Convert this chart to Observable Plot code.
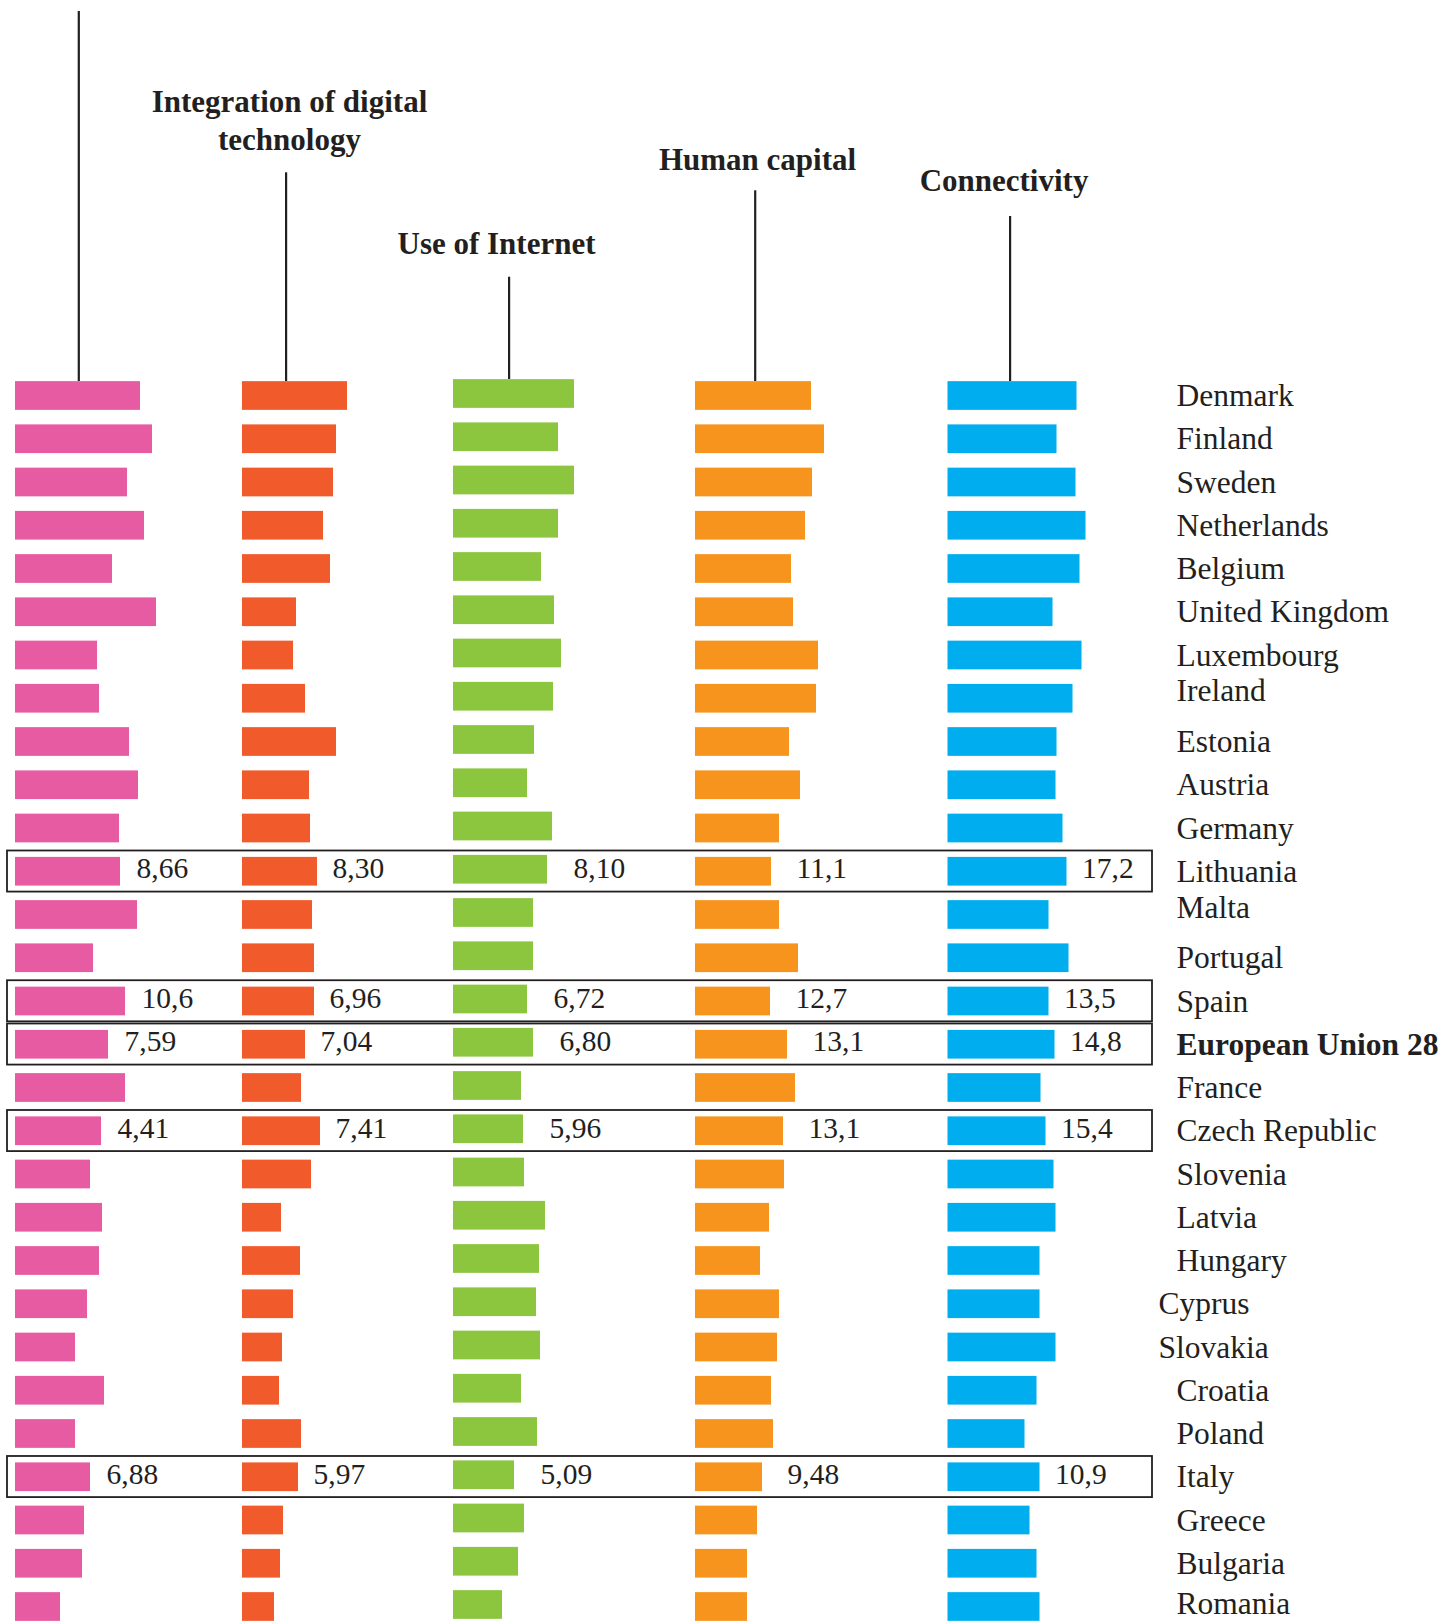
<!DOCTYPE html>
<html>
<head>
<meta charset="utf-8">
<script src="https://cdn.jsdelivr.net/npm/d3@7"></script>
<script src="https://cdn.jsdelivr.net/npm/@observablehq/plot@0.6"></script>
<style>
  html, body { margin: 0; padding: 0; background: #ffffff; }
  #chart { width: 1454px; height: 1622px; }
</style>
</head>
<body>
<div id="chart"></div>
<script>
// ---------------- DATA ----------------
const countries = [
  "Denmark", "Finland", "Sweden", "Netherlands", "Belgium", "United Kingdom",
  "Luxembourg", "Ireland", "Estonia", "Austria", "Germany", "Lithuania",
  "Malta", "Portugal", "Spain", "European Union 28", "France", "Czech Republic",
  "Slovenia", "Latvia", "Hungary", "Cyprus", "Slovakia", "Croatia", "Poland",
  "Italy", "Greece", "Bulgaria", "Romania"
];

// bar lengths as drawn in the picture (same unit for every column)
const digitalPublicServices = [
  125, 137, 112, 129, 97, 141, 82, 84, 114, 123, 104, 105, 122, 78, 110,
  93, 110, 86, 75, 87, 84, 72, 60, 89, 60, 75, 69, 67, 45
];
const integrationOfDigitalTechnology = [
  105, 94, 91, 81, 88, 54, 51, 63, 94, 67, 68, 75, 70, 72, 72,
  63, 59, 78, 69, 39, 58, 51, 40, 37, 59, 56, 41, 38, 32
];
const useOfInternet = [
  121, 105, 121, 105, 88, 101, 108, 100, 81, 74, 99, 94, 80, 80, 74,
  80, 68, 70, 71, 92, 86, 83, 87, 68, 84, 61, 71, 65, 49
];
const humanCapital = [
  116, 129, 117, 110, 96, 98, 123, 121, 94, 105, 84, 76, 84, 103, 75,
  92, 100, 88, 89, 74, 65, 84, 82, 76, 78, 67, 62, 52, 52
];
const connectivity = [
  129, 109, 128, 138, 132, 105, 134, 125, 109, 108, 115, 119, 101, 121, 101,
  107, 93, 98, 106, 108, 92, 92, 108, 89, 77, 92, 82, 89, 92
];

const dimensionTitles = [
  [],
  ["Integration of digital", "technology"],
  ["Use of Internet"],
  ["Human capital"],
  ["Connectivity"]
];

// printed scores of the framed rows
const highlightedCountries = ["Lithuania", "Spain", "European Union 28", "Czech Republic", "Italy"];
const lithuaniaScores = ["8,66", "8,30", "8,10", "11,1", "17,2"];
const spainScores     = ["10,6", "6,96", "6,72", "12,7", "13,5"];
const euScores        = ["7,59", "7,04", "6,80", "13,1", "14,8"];
const czechScores     = ["4,41", "7,41", "5,96", "13,1", "15,4"];
const italyScores     = ["6,88", "5,97", "5,09", "9,48", "10,9"];

// ---------------- LAYOUT / STYLE ----------------
const W = 1454, H = 1622;
const ROW0 = 395.5, ROWSTEP = 43.25;            // pixel centre of first row, row step
const rowOf = px => (px - ROW0) / ROWSTEP;        // pixel -> row units (y scale unit)
const series = [digitalPublicServices, integrationOfDigitalTechnology, useOfInternet, humanCapital, connectivity];
const colors = ["#e65ba1", "#f15a2b", "#8cc63f", "#f7941d", "#00aeef"];
const colStart = [15, 242, 453, 695, 947.5];
const colDy = [0, 0, -2, 0, 0];
const labelDx = [16, 15, 26, 25, 15];
const leaderX = [78.3, 285.6, 508.6, 754.7, 1009.6];
const leaderTop = [11, 172.3, 276.7, 190.3, 216];
const titleX = [0, 289, 496, 757, 1003.5];
const titleBaselines = [[], [111, 149], [253.3], [169.3], [190]];
const ink = "#231f20";
const serif = "Liberation Serif, Times New Roman, serif";
const TITLE_FS = 31, NAME_FS = 31.5, NUM_FS = 29.5;
const HALF_BAR = 0.332;

const rows = countries.map((c, i) => ({country: c, row: i}));
const scoreTable = [lithuaniaScores, spainScores, euScores, czechScores, italyScores];
const outdented = new Set(["Cyprus", "Slovakia"]);
const raised = new Set(["Ireland", "Malta"]);
const lastRow = countries.length - 1;

const marks = [];

// framed rows
marks.push(Plot.rect(highlightedCountries, {
  x1: 7, x2: 1152,
  y1: d => countries.indexOf(d) - 0.48,
  y2: d => countries.indexOf(d) + 0.47,
  fill: "none", stroke: ink, strokeWidth: 1.8
}));

// leader lines
const leaders = leaderX.map((x, k) => ({x, top: leaderTop[k], k}));
marks.push(Plot.ruleX(leaders, {
  x: "x",
  y1: d => rowOf(d.top),
  y2: d => rowOf(381 + colDy[d.k]),
  stroke: ink, strokeWidth: 2.2
}));

// titles
const titleRows = [];
dimensionTitles.forEach((lines, k) => lines.forEach((t, j) =>
  titleRows.push({text: t, x: titleX[k], base: titleBaselines[k][j]})));
marks.push(Plot.text(titleRows, {
  x: "x", y: d => rowOf(d.base - 0.32 * TITLE_FS), text: "text",
  textAnchor: "middle", fontFamily: serif, fontWeight: "bold",
  fontSize: TITLE_FS, fill: ink
}));

// bars, one mark per dimension
series.forEach((vals, k) => {
  marks.push(Plot.rect(rows, {
    x1: () => colStart[k],
    x2: d => colStart[k] + vals[d.row],
    y1: d => d.row - HALF_BAR,
    y2: d => d.row + HALF_BAR,
    dy: colDy[k],
    fill: colors[k]
  }));
});

// printed scores
series.forEach((vals, k) => {
  const data = highlightedCountries.map((c, h) => ({row: countries.indexOf(c), text: scoreTable[h][k]}));
  marks.push(Plot.text(data, {
    x: d => colStart[k] + vals[d.row],
    y: "row", text: "text",
    dx: labelDx[k], dy: -3,
    textAnchor: "start", fontFamily: serif, fontSize: NUM_FS, fill: ink
  }));
});

// country names
const nameRows = rows.filter(d => d.country !== "European Union 28");
marks.push(Plot.text(nameRows, {
  x: d => outdented.has(d.country) ? 1158 : 1176,
  y: d => raised.has(d.country) ? d.row - 0.17 : (d.row === lastRow ? d.row - 0.07 : d.row),
  text: "country", textAnchor: "start",
  fontFamily: serif, fontSize: NAME_FS, fill: ink
}));
marks.push(Plot.text(rows.filter(d => d.country === "European Union 28"), {
  x: 1176, y: "row", text: "country", textAnchor: "start",
  fontFamily: serif, fontSize: NAME_FS, fontWeight: "bold", fill: ink
}));

const chart = Plot.plot({
  width: W, height: H,
  margin: 0,
  x: {domain: [0, W], range: [0, W], axis: null},
  y: {domain: [rowOf(0), rowOf(H)], range: [0, H], axis: null},
  style: {background: "#ffffff"},
  marks
});
document.getElementById("chart").appendChild(chart);
</script>
</body>
</html>
